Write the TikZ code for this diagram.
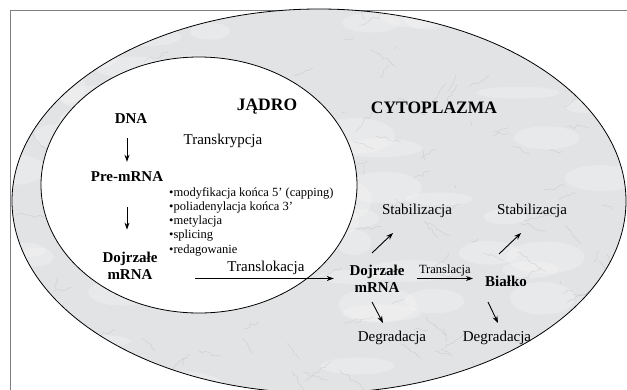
\documentclass[tikz,border=0pt]{standalone}
\usepackage{fontspec}
\setmainfont{Liberation Serif}
\usepackage{xcolor}
\usetikzlibrary{shapes,arrows,arrows.meta,positioning,calc,decorations.pathmorphing}

\definecolor{marble}{RGB}{226,227,229}
\definecolor{vein}{RGB}{150,152,156}

\begin{document}
\begin{tikzpicture}[
    x=1pt, y=-1pt,
    title/.style={font=\fontsize{17.5}{20}\selectfont\bfseries, inner sep=0pt},
    term/.style={font=\fontsize{15}{17}\selectfont\bfseries, align=center, inner sep=0pt},
    lbl/.style={font=\fontsize{15}{17}\selectfont, inner sep=0pt},
    small/.style={font=\fontsize{12.5}{14.3}\selectfont, align=left, inner sep=0pt},
    arrow/.style={->, >={Stealth[length=7pt,width=5pt]}, line width=0.9pt},
    veins/.style={vein, line width=0.4pt, opacity=0.3, decorate,
        decoration={random steps, segment length=4pt, amplitude=2pt}},
    patch/.style={white, opacity=0.22},
]
    \useasboundingbox (0,0) rectangle (627,389);
    \clip (0,0) rectangle (627,389);

    % Frame and cell
    \draw[gray, line width=0.8pt] (10.5,10.5) rectangle (700,450);
    \fill[marble] (319,201) ellipse [x radius=307pt, y radius=192pt];
    \begin{scope}
        \clip (319,201) ellipse [x radius=307pt, y radius=192pt];
        \pgfmathsetseed{11}
        \foreach \i in {1,...,70}
            \fill[patch] ({10+610*rnd},{5+390*rnd}) ellipse [x radius={15pt+30pt*rnd}, y radius={6pt+12pt*rnd}];
        \foreach \i in {1,...,170}
            \draw[veins] ({10+610*rnd},{5+390*rnd}) -- ++({-30+60*rnd},{-20+40*rnd});
    \end{scope}
    \draw[line width=0.8pt] (319,201) ellipse [x radius=307pt, y radius=192pt];

    % Nucleus
    \draw[fill=white, line width=0.8pt] (199,185) ellipse [x radius=158pt, y radius=128pt];

    % Titles
    \node[title] (jadro) at (267,107) {JĄDRO};
    \node[title] (cyto) at (434,108) {CYTOPLAZMA};

    % Inside the nucleus
    \node[term] (dna) at (131,119) {DNA};
    \node[lbl] (transkr) at (223,141) {Transkrypcja};
    \node[term] (pre) at (127,177) {Pre-mRNA};
    \node[small, anchor=north west] (mods) at (169,187) {•modyfikacja końca 5’ (capping)\\•poliadenylacja końca 3’\\•metylacja\\•splicing\\•redagowanie};
    \node[term] (mature1) at (130,265.5) {Dojrzałe\\mRNA};

    % Cytoplasm
    \node[term] (mature2) at (377,278.5) {Dojrzałe\\mRNA};
    \node[term] (protein) at (506,281) {Białko};
    \node[lbl] (stab1) at (417,211) {Stabilizacja};
    \node[lbl] (stab2) at (532,211) {Stabilizacja};
    \node[lbl] (degr1) at (392,338) {Degradacja};
    \node[lbl] (degr2) at (497,338) {Degradacja};

    % Arrows
    \draw[arrow, shorten <=14pt, shorten >=10pt] (pre.north |- dna.south) -- (pre.north);
    \draw[arrow, shorten <=25pt, shorten >=22pt] (pre.south) -- (pre.south |- mature1.north);
    \draw[arrow, line width=1pt, shorten <=37.5pt, shorten >=15.5pt] (mature1.east |- mature2.west) -- (mature2.west)
        node[lbl, pos=0.565, above=3pt] {Translokacja};
    \draw[arrow, shorten <=12.5pt, shorten >=12pt] (mature2.east) -- (mature2.east -| protein.west)
        node[small, pos=0.5, above=2pt] {Translacja};
    \draw[arrow] ([shift={(-5,-25.5)}]mature2.center) -- ([shift={(-24,22)}]stab1.center);
    \draw[arrow] ([shift={(-5,23.5)}]mature2.center) -- ([shift={(-9,-15)}]degr1.center);
    \draw[arrow] ([shift={(-7,-27)}]protein.center) -- ([shift={(-11,22)}]stab2.center);
    \draw[arrow] ([shift={(-18,21)}]protein.center) -- ([shift={(1,-15)}]degr2.center);
\end{tikzpicture}
\end{document}
